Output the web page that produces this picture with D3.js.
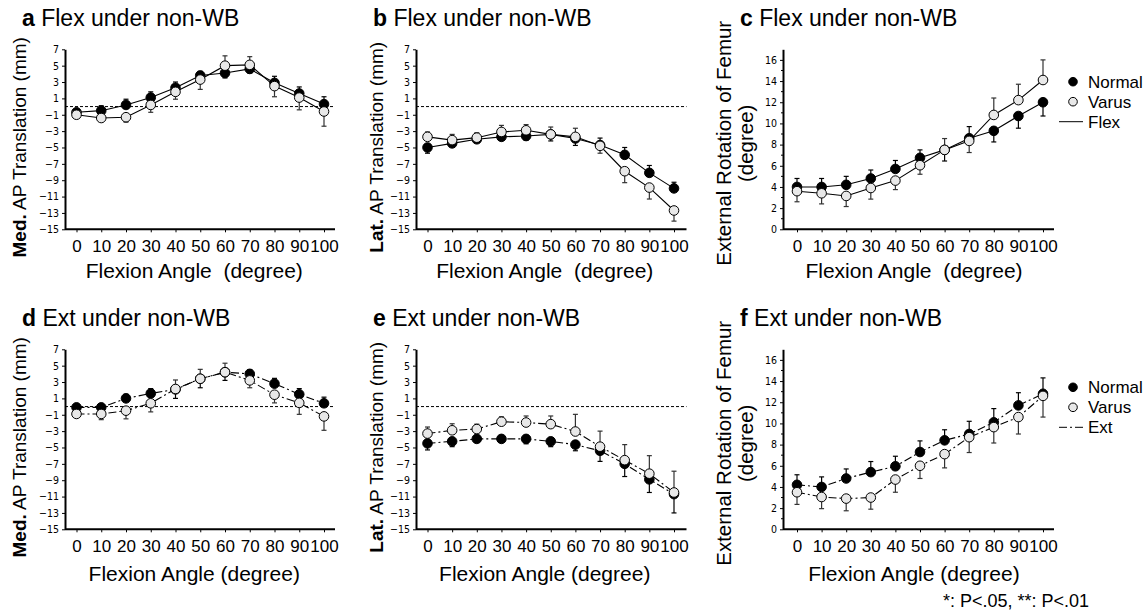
<!DOCTYPE html>
<html>
<head>
<meta charset="utf-8">
<script src="https://cdn.jsdelivr.net/npm/d3@7"></script>
<style>
  body { margin: 0; background: #fff; }
  text { font-family: "Liberation Sans", Arial, sans-serif; fill: #000; }
  .ytick text { font-family: "Liberation Sans Narrow", "DejaVu Sans Condensed", sans-serif; font-size: 10.5px; }
</style>
</head>
<body>
<svg id="chart" width="1146" height="615"></svg>
<script>
// Data
// ============================================================================
const angles = [0, 10, 20, 30, 40, 50, 60, 70, 80, 90, 100];

// a: medial AP translation, flexion
const aNormal   = [-0.7, -0.5, 0.2, 1.1, 2.3, 3.8, 4.1, 4.6, 2.9, 1.6, 0.3];
const aVarus    = [-1.0, -1.4, -1.3, 0.2, 1.8, 3.3, 5.0, 5.1, 2.5, 1.1, -0.6];
const aNormalSD = [0.3, 0.6, 0.7, 0.7, 0.7, 0.5, 0.6, 0.5, 0.8, 0.8, 0.9];
const aVarusSD  = [0.3, 0.3, 0.6, 0.9, 0.9, 1.2, 1.2, 1.0, 1.3, 1.5, 1.8];

// b: lateral AP translation, flexion
const bNormal   = [-5.0, -4.5, -4.0, -3.7, -3.6, -3.4, -3.9, -4.7, -5.9, -8.1, -10.0];
const bVarus    = [-3.7, -4.1, -3.8, -3.1, -2.9, -3.4, -3.7, -4.8, -7.9, -9.9, -12.7];
const bNormalSD = [0.7, 0.4, 0.3, 0.3, 0.5, 0.8, 0.85, 0.85, 0.9, 0.9, 0.75];
const bVarusSD  = [0.6, 0.7, 0.6, 0.8, 0.7, 0.9, 1.05, 0.9, 1.4, 1.4, 1.3];

// c: femoral external rotation, flexion
const cNormal   = [4.0, 4.0, 4.2, 4.8, 5.7, 6.75, 7.5, 8.6, 9.3, 10.7, 12.0];
const cVarus    = [3.6, 3.4, 3.15, 3.9, 4.6, 6.05, 7.5, 8.35, 10.8, 12.2, 14.1];
const cNormalSD = [0.8, 0.8, 0.8, 0.8, 0.8, 0.75, 1.05, 1.1, 1.05, 1.15, 1.3];
const cVarusSD  = [1.0, 1.0, 1.0, 1.05, 0.85, 0.85, 1.07, 1.1, 1.6, 1.5, 1.9];

// d: medial AP translation, extension
const dNormal   = [-0.1, -0.1, 1.0, 1.6, 2.1, 3.4, 4.2, 4.0, 2.8, 1.5, 0.4];
const dVarus    = [-0.9, -0.9, -0.5, 0.4, 2.15, 3.4, 4.2, 3.2, 1.45, 0.45, -1.2];
const dNormalSD = [0.2, 0.3, 0.5, 0.6, 1.1, 1.1, 1.0, 0.5, 0.65, 0.7, 0.75];
const dVarusSD  = [0.3, 0.7, 1.0, 1.05, 1.1, 1.15, 1.1, 0.9, 1.0, 1.4, 1.7];

// e: lateral AP translation, extension
const eNormal   = [-4.5, -4.25, -3.95, -3.95, -3.95, -4.25, -4.65, -5.4, -7.0, -8.9, -10.7];
const eVarus    = [-3.3, -2.9, -2.75, -1.85, -1.95, -2.15, -3.05, -4.9, -6.55, -8.2, -10.5];
const eNormalSD = [0.8, 0.65, 0.3, 0.4, 0.6, 0.65, 0.75, 1.3, 1.55, 1.6, 2.3];
const eVarusSD  = [0.8, 0.8, 0.6, 0.6, 0.8, 1.0, 2.1, 1.9, 1.9, 2.2, 2.6];

// f: femoral external rotation, extension
const fNormal   = [4.2, 4.0, 4.8, 5.4, 5.95, 7.3, 8.4, 9.0, 10.1, 11.7, 12.8];
const fVarus    = [3.5, 3.05, 2.9, 3.0, 4.7, 6.0, 7.1, 8.7, 9.65, 10.6, 12.6];
const fNormalSD = [0.95, 0.95, 0.9, 1.0, 0.95, 1.05, 1.0, 1.2, 1.3, 1.2, 1.5];
const fVarusSD  = [1.15, 1.1, 1.15, 1.1, 1.2, 1.2, 1.3, 1.45, 1.5, 1.6, 2.0];

const transTicks = [7, 5, 3, 1, -1, -3, -5, -7, -9, -11, -13, -15];
const rotTicks = [0, 2, 4, 6, 8, 10, 12, 14, 16];
const rotMinor = [1, 3, 5, 7, 9, 11, 13, 15];

// Layout
// ============================================================================
const cols = [
    {axisX: 65, x0: 76.5, x100: 324, end: 335, ylab: 46},
    {axisX: 416, x0: 427.5, x100: 674, end: 686.5, ylab: 40},
    {axisX: 783, x0: 797, x100: 1043, end: 1054, ylab: 0},
];
const rows = [
    {top: 49.3, bottom: 229.3, title: 26, xlab: 278, legend: 81.7},
    {top: 349.3, bottom: 529.3, title: 326, xlab: 581, legend: 387.3},
];

const panels = [
    {id: "a", title: "Flex under non-WB", col: 0, row: 0, kind: "trans", side: "Med.",
     normal: aNormal, varus: aVarus, normalSD: aNormalSD, varusSD: aVarusSD, dash: null, xlab: "Flexion Angle  (degree)"},
    {id: "b", title: "Flex under non-WB", col: 1, row: 0, kind: "trans", side: "Lat.",
     normal: bNormal, varus: bVarus, normalSD: bNormalSD, varusSD: bVarusSD, dash: null, xlab: "Flexion Angle  (degree)"},
    {id: "c", title: "Flex under non-WB", col: 2, row: 0, kind: "rot", legend: "Flex",
     normal: cNormal, varus: cVarus, normalSD: cNormalSD, varusSD: cVarusSD, dash: null, xlab: "Flexion Angle  (degree)"},
    {id: "d", title: "Ext under non-WB", col: 0, row: 1, kind: "trans", side: "Med.",
     normal: dNormal, varus: dVarus, normalSD: dNormalSD, varusSD: dVarusSD, dash: "8,3,2,3", xlab: "Flexion Angle (degree)"},
    {id: "e", title: "Ext under non-WB", col: 1, row: 1, kind: "trans", side: "Lat.",
     normal: eNormal, varus: eVarus, normalSD: eNormalSD, varusSD: eVarusSD, dash: "8,3,2,3", xlab: "Flexion Angle (degree)"},
    {id: "f", title: "Ext under non-WB", col: 2, row: 1, kind: "rot", legend: "Ext",
     normal: fNormal, varus: fVarus, normalSD: fNormalSD, varusSD: fVarusSD, dash: "8,3,2,3", xlab: "Flexion Angle (degree)"},
];

const svg = d3.select("#chart");
svg.append("rect").attr("width", 1146).attr("height", 615).attr("fill", "#fff");

const fmt = d => d < 0 ? "\u2212" + Math.abs(d) : String(d);

panels.forEach(p => {
    const c = cols[p.col], r = rows[p.row];
    const g = svg.append("g");

    const x = d3.scaleLinear().domain([0, 100]).range([c.x0, c.x100]);
    const y = p.kind === "trans"
        ? d3.scaleLinear().domain([-15, 7]).range([r.bottom, r.top])
        : d3.scaleLinear().domain([0, 17]).range([r.bottom, r.top]);

    // Title
    const t = g.append("text").attr("x", c.axisX - 43).attr("y", r.title).attr("font-size", 23);
    t.append("tspan").attr("font-weight", "bold").text(p.id);
    t.append("tspan").text(" " + p.title);

    // Y axis
    const yAxis = g.append("g")
        .attr("class", "ytick")
        .attr("transform", `translate(${c.axisX},0)`)
        .call(d3.axisLeft(y)
            .tickValues(p.kind === "trans" ? transTicks : rotTicks)
            .tickSize(3).tickSizeOuter(0).tickPadding(3)
            .tickFormat(fmt));
    yAxis.select(".domain").attr("stroke-width", 2);
    if (p.kind === "rot") {
        yAxis.selectAll(".minor").data(rotMinor).enter().append("line")
            .attr("x1", -2).attr("x2", 0)
            .attr("y1", d => y(d)).attr("y2", d => y(d))
            .attr("stroke", "#000");
    }

    // X axis
    g.append("line")
        .attr("x1", c.axisX).attr("x2", c.end)
        .attr("y1", r.bottom).attr("y2", r.bottom)
        .attr("stroke", "#000").attr("stroke-width", 2);
    const xAxis = g.append("g")
        .attr("transform", `translate(0,${r.bottom})`)
        .call(d3.axisBottom(x).tickValues(angles).tickSize(3).tickSizeOuter(0).tickPadding(8));
    xAxis.select(".domain").remove();
    xAxis.selectAll("text").attr("font-size", 17).attr("font-family", "Liberation Sans, Arial, sans-serif");

    // X label
    g.append("text")
        .attr("x", (c.x0 + c.x100) / 2 - 6).attr("y", r.xlab)
        .attr("text-anchor", "middle").attr("font-size", 21)
        .style("white-space", "pre")
        .text(p.xlab);

    // Y label
    const cy = (r.top + r.bottom) / 2 + 8;
    if (p.kind === "trans") {
        const yl = g.append("text")
            .attr("transform", `translate(${c.axisX - c.ylab},${cy}) rotate(-90)`)
            .attr("text-anchor", "middle").attr("font-size", 19).attr("dy", "0.35em");
        yl.append("tspan").attr("font-weight", "bold").text(p.side);
        yl.append("tspan").text(" AP Translation (mm)");
    } else {
        g.append("text")
            .attr("transform", `translate(${c.axisX - 59},${cy - 4}) rotate(-90)`)
            .attr("text-anchor", "middle").attr("font-size", 20.5).attr("dy", "0.35em")
            .text("External Rotation of Femur");
        g.append("text")
            .attr("transform", `translate(${c.axisX - 37},${cy - 4}) rotate(-90)`)
            .attr("text-anchor", "middle").attr("font-size", 20.5).attr("dy", "0.35em")
            .text("(degree)");
    }

    // Zero line
    if (p.kind === "trans") {
        g.append("line")
            .attr("x1", c.axisX).attr("x2", c.end)
            .attr("y1", y(0)).attr("y2", y(0))
            .attr("stroke", "#000").attr("stroke-width", 1)
            .attr("stroke-dasharray", "3,2");
    }

    // Series
    const series = [
        {vals: p.normal, sd: p.normalSD, other: p.varus, fill: "#000", bar: "#000", up: (v, o) => v > o},
        {vals: p.varus, sd: p.varusSD, other: p.normal, fill: "#e8e8e8", bar: "#333", up: (v, o) => v >= o},
    ];
    const line = d3.line().x((d, i) => x(angles[i])).y(d => y(d));

    series.forEach(s => {
        g.append("path")
            .datum(s.vals)
            .attr("d", line)
            .attr("fill", "none").attr("stroke", "#000").attr("stroke-width", 1.1)
            .attr("stroke-dasharray", p.dash);
    });

    series.forEach(s => {
        const pts = s.vals.map((v, i) => ({
            a: angles[i], v: v,
            e: s.up(v, s.other[i]) ? v + s.sd[i] : v - s.sd[i],
        }));
        const eb = g.append("g");
        eb.selectAll("line.bar").data(pts).enter().append("line")
            .attr("x1", d => x(d.a)).attr("x2", d => x(d.a))
            .attr("y1", d => y(d.v)).attr("y2", d => y(d.e))
            .attr("stroke", s.bar).attr("stroke-width", 1.2);
        eb.selectAll("line.cap").data(pts).enter().append("line")
            .attr("x1", d => x(d.a) - 2.5).attr("x2", d => x(d.a) + 2.5)
            .attr("y1", d => y(d.e)).attr("y2", d => y(d.e))
            .attr("stroke", s.bar).attr("stroke-width", 1.2);
        g.selectAll(null).data(pts).enter().append("circle")
            .attr("cx", d => x(d.a)).attr("cy", d => y(d.v))
            .attr("r", 4.8)
            .attr("fill", s.fill).attr("stroke", "#000").attr("stroke-width", 1);
    });

    // Legend
    if (p.legend) {
        const lx = 1073, ly = r.legend;
        const items = [
            {label: "Normal", fill: "#000"},
            {label: "Varus", fill: "#e8e8e8"},
        ];
        items.forEach((it, i) => {
            g.append("circle").attr("cx", lx).attr("cy", ly + i * 20).attr("r", 4.3)
                .attr("fill", it.fill).attr("stroke", "#000");
            g.append("text").attr("x", lx + 15).attr("y", ly + i * 20).attr("dy", "0.35em")
                .attr("font-size", 17).text(it.label);
        });
        g.append("line")
            .attr("x1", lx - 14).attr("x2", lx + 10)
            .attr("y1", ly + 40).attr("y2", ly + 40)
            .attr("stroke", "#000").attr("stroke-dasharray", p.dash);
        g.append("text").attr("x", lx + 15).attr("y", ly + 40).attr("dy", "0.35em")
            .attr("font-size", 17).text(p.legend);
    }
});

// Footnote
svg.append("text")
    .attr("x", 1089).attr("y", 607)
    .attr("text-anchor", "end").attr("font-size", 18)
    .text("*: P<.05, **: P<.01");
</script>
</body>
</html>
